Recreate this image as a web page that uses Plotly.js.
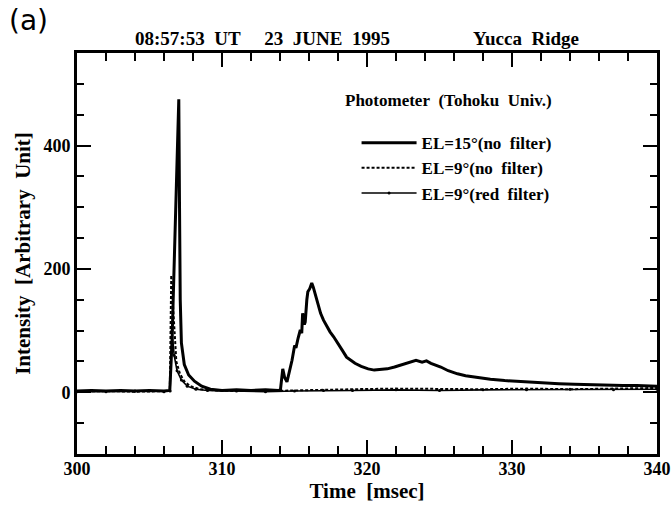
<!DOCTYPE html>
<html><head><meta charset="utf-8">
<script src="https://cdn.plot.ly/plotly-3.0.1.min.js"></script>
<style>html,body{margin:0;padding:0;background:#fff}#chart{width:671px;height:505px}</style>
</head><body><div id="chart"></div>
<script>
// EL=15° (no filter)
var t15 = [300, 301, 302, 303, 304, 305, 306, 306.4, 306.55, 306.75, 306.9, 307.02, 307.07, 307.12, 307.2, 307.4, 307.7, 308.1, 308.6, 309.2, 310, 311, 312, 313, 313.9, 314.03, 314.19, 314.32, 314.48, 314.65, 314.83, 315.01, 315.1, 315.25, 315.4, 315.5, 315.56, 315.68, 315.74, 315.85, 315.92, 316.05, 316.19, 316.3, 316.43, 316.55, 316.65, 316.8, 317.0, 317.2, 317.45, 317.7, 318.02, 318.3, 318.59, 318.9, 319.17, 319.6, 320.08, 320.5, 320.99, 321.4, 321.9, 322.3, 322.59, 323.0, 323.38, 323.8, 324.1, 324.41, 324.8, 325.09, 325.6, 326.24, 326.8, 327.38, 328.0, 328.51, 329.5, 330.8, 332.0, 333.24, 334.3, 335.36, 336.5, 337.65, 338.6, 339.47, 340];
var v15 = [2, 3, 2, 3, 2, 3, 2, 3, 80, 240, 400, 475, 300, 150, 80, 45, 28, 18, 10, 5, 3, 4, 3, 4, 3, 4, 38, 24, 17, 32, 52, 76, 72, 88, 101, 96, 128, 110, 114, 150, 163, 168, 177, 170, 160, 150, 139, 128, 117, 108, 98, 90, 79, 68, 57, 52, 47, 42, 38, 36, 37, 38, 41, 44, 47, 49, 52, 49, 51, 47, 44, 41, 35, 30, 27, 25, 23, 21, 19, 17, 15, 14, 13, 12, 12, 11, 11, 10, 10];
// EL=9° (no filter)
var t9 = [300, 302, 304, 306, 306.4, 306.5, 306.6, 306.7, 306.85, 307.1, 307.4, 307.8, 308.5, 309.5, 311, 313, 315, 317, 319, 322, 325, 328, 331, 334, 337, 340];
var v9 = [1, 2, 1, 2, 2, 190, 150, 90, 50, 30, 18, 10, 5, 3, 2, 2, 3, 5, 5, 6, 5, 5, 6, 5, 6, 7];
// EL=9° (red filter)
var t9r = [300, 302, 304, 306, 306.42, 306.55, 306.7, 306.9, 307.2, 307.6, 308.2, 309, 311, 313, 315, 317, 319, 322, 325, 328, 331, 334, 337, 340];
var v9r = [1, 1, 2, 1, 2, 100, 60, 35, 20, 10, 5, 3, 2, 1, 2, 3, 3, 4, 3, 4, 4, 5, 4, 5];

var seriesNames = ['EL=15°(no\u00a0\u00a0filter)', 'EL=9°(no\u00a0\u00a0filter)', 'EL=9°(red\u00a0\u00a0filter)'];
var xTickVals = [300, 310, 320, 330, 340];
var yTickVals = [0, 200, 400];

var serif = 'Liberation Serif';

var data = [
  {x: t15, y: v15, name: seriesNames[0], mode: 'lines', line: {color: '#000', width: 3}},
  {x: t9, y: v9, name: seriesNames[1], mode: 'lines', line: {color: '#000', width: 2, dash: '3px,2px'}},
  {x: t9r, y: v9r, name: seriesNames[2], mode: 'lines+markers', line: {color: '#000', width: 1.6}, marker: {color: '#000', size: 3}}
];

function axisCommon() {
  return {
    showline: true, linewidth: 3, linecolor: '#000', mirror: 'ticks',
    ticks: 'inside', tickwidth: 2, tickcolor: '#000', ticklen: 14,
    showgrid: false, zeroline: false, ticklabeloverflow: 'allow',
    tickfont: {family: serif, size: 18, weight: 'bold', color: '#000'}
  };
}

var layout = {
  width: 671, height: 505,
  margin: {l: 77, r: 14, t: 53, b: 51},
  font: {family: serif, color: '#000'},
  paper_bgcolor: '#fff', plot_bgcolor: '#fff',
  showlegend: true,
  legend: {x: 0.482, y: 0.82, xanchor: 'left', yanchor: 'top', bgcolor: 'rgba(0,0,0,0)',
           font: {family: serif, size: 17, weight: 'bold', color: '#000'}, itemwidth: 55, tracegroupgap: 0},
  xaxis: Object.assign(axisCommon(), {
    range: [300, 340], tickmode: 'array', tickvals: xTickVals, ticktext: xTickVals.map(String),
    ticklabelstandoff: -4,
    minor: {dtick: 2, tick0: 300, ticks: 'inside', ticklen: 8, tickwidth: 2, tickcolor: '#000'},
    title: {text: 'Time\u00a0\u00a0[msec]', font: {family: serif, size: 21, weight: 'bold', color: '#000'}, standoff: 6}
  }),
  yaxis: Object.assign(axisCommon(), {
    range: [-100, 550], tickmode: 'array', tickvals: yTickVals, ticktext: yTickVals.map(String),
    minor: {dtick: 50, tick0: 0, ticks: 'inside', ticklen: 7, tickwidth: 2, tickcolor: '#000'},
    title: {text: 'Intensity\u00a0\u00a0[Arbitrary\u00a0\u00a0Unit]', font: {family: serif, size: 21, weight: 'bold', color: '#000'}, standoff: 8}
  }),
  annotations: [
    {text: '(a)', xref: 'paper', yref: 'paper', x: -0.12, y: 1.082, xanchor: 'left', yanchor: 'middle', showarrow: false,
     font: {family: 'DejaVu Sans', size: 28, color: '#000'}},
    {text: '08:57:53\u00a0\u00a0UT\u00a0\u00a0\u00a0\u00a0\u00a023\u00a0\u00a0JUNE\u00a0\u00a01995', xref: 'paper', yref: 'paper', x: (133 - 77) / 580, y: 1.037, xanchor: 'left', yanchor: 'middle', showarrow: false,
     font: {family: serif, size: 19, weight: 'bold', color: '#000'}},
    {text: 'Yucca\u00a0\u00a0Ridge', xref: 'paper', yref: 'paper', x: (471 - 77) / 580, y: 1.037, xanchor: 'left', yanchor: 'middle', showarrow: false,
     font: {family: serif, size: 19, weight: 'bold', color: '#000'}},
    {text: 'Photometer\u00a0\u00a0(Tohoku\u00a0\u00a0Univ.)', xref: 'paper', yref: 'paper', x: (343 - 77) / 580, y: (454 - 100) / 401.3, xanchor: 'left', yanchor: 'middle', showarrow: false,
     font: {family: serif, size: 17, weight: 'bold', color: '#000'}}
  ]
};

Plotly.newPlot('chart', data, layout, {displayModeBar: false, staticPlot: true});
</script></body></html>
